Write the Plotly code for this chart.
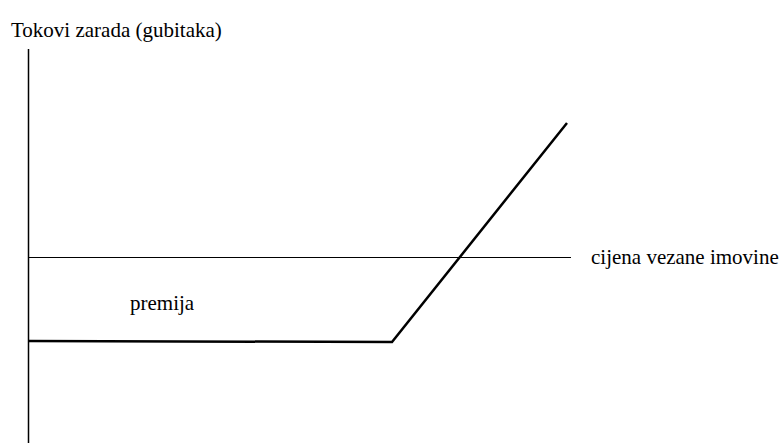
import plotly.graph_objects as go

# payoff of a long call, in screen-like units (x: price, y: cash flow)
payoff_x = [29, 392, 567]
payoff_y = [102, 101, 320]

# axes of the sketch
price_axis_x = [28.5, 571]
price_axis_y = [185.5, 185.5]
cash_axis_x = [28.5, 28.5]
cash_axis_y = [-5, 394]

labels = ["Tokovi zarada (gubitaka)", "premija", "cijena vezane imovine"]
label_x = [9, 128, 589]
label_y = [413, 140, 186]

fig = go.Figure()

fig.add_trace(go.Scatter(x=cash_axis_x, y=cash_axis_y, mode='lines',
                         line=dict(color='black', width=1.5)))
fig.add_trace(go.Scatter(x=price_axis_x, y=price_axis_y, mode='lines',
                         line=dict(color='black', width=1)))
fig.add_trace(go.Scatter(x=payoff_x, y=payoff_y, mode='lines',
                         line=dict(color='black', width=2.5)))

for txt, x, y in zip(labels, label_x, label_y):
    fig.add_annotation(x=x, y=y, text=txt, showarrow=False,
                       xanchor='left', yanchor='middle',
                       font=dict(family='"Liberation Serif", "Times New Roman", serif',
                                 size=21, color='black'))

fig.update_layout(
    width=782, height=443,
    margin=dict(l=0, r=0, t=0, b=0),
    plot_bgcolor='white', paper_bgcolor='white',
    showlegend=False,
    xaxis=dict(range=[0, 782], visible=False),
    yaxis=dict(range=[0, 443], visible=False),
)

# page margin off so the figure sits at the window corner
fig.write_html("out.html", config={'displayModeBar': False},
               post_script="document.body.style.margin='0';")
